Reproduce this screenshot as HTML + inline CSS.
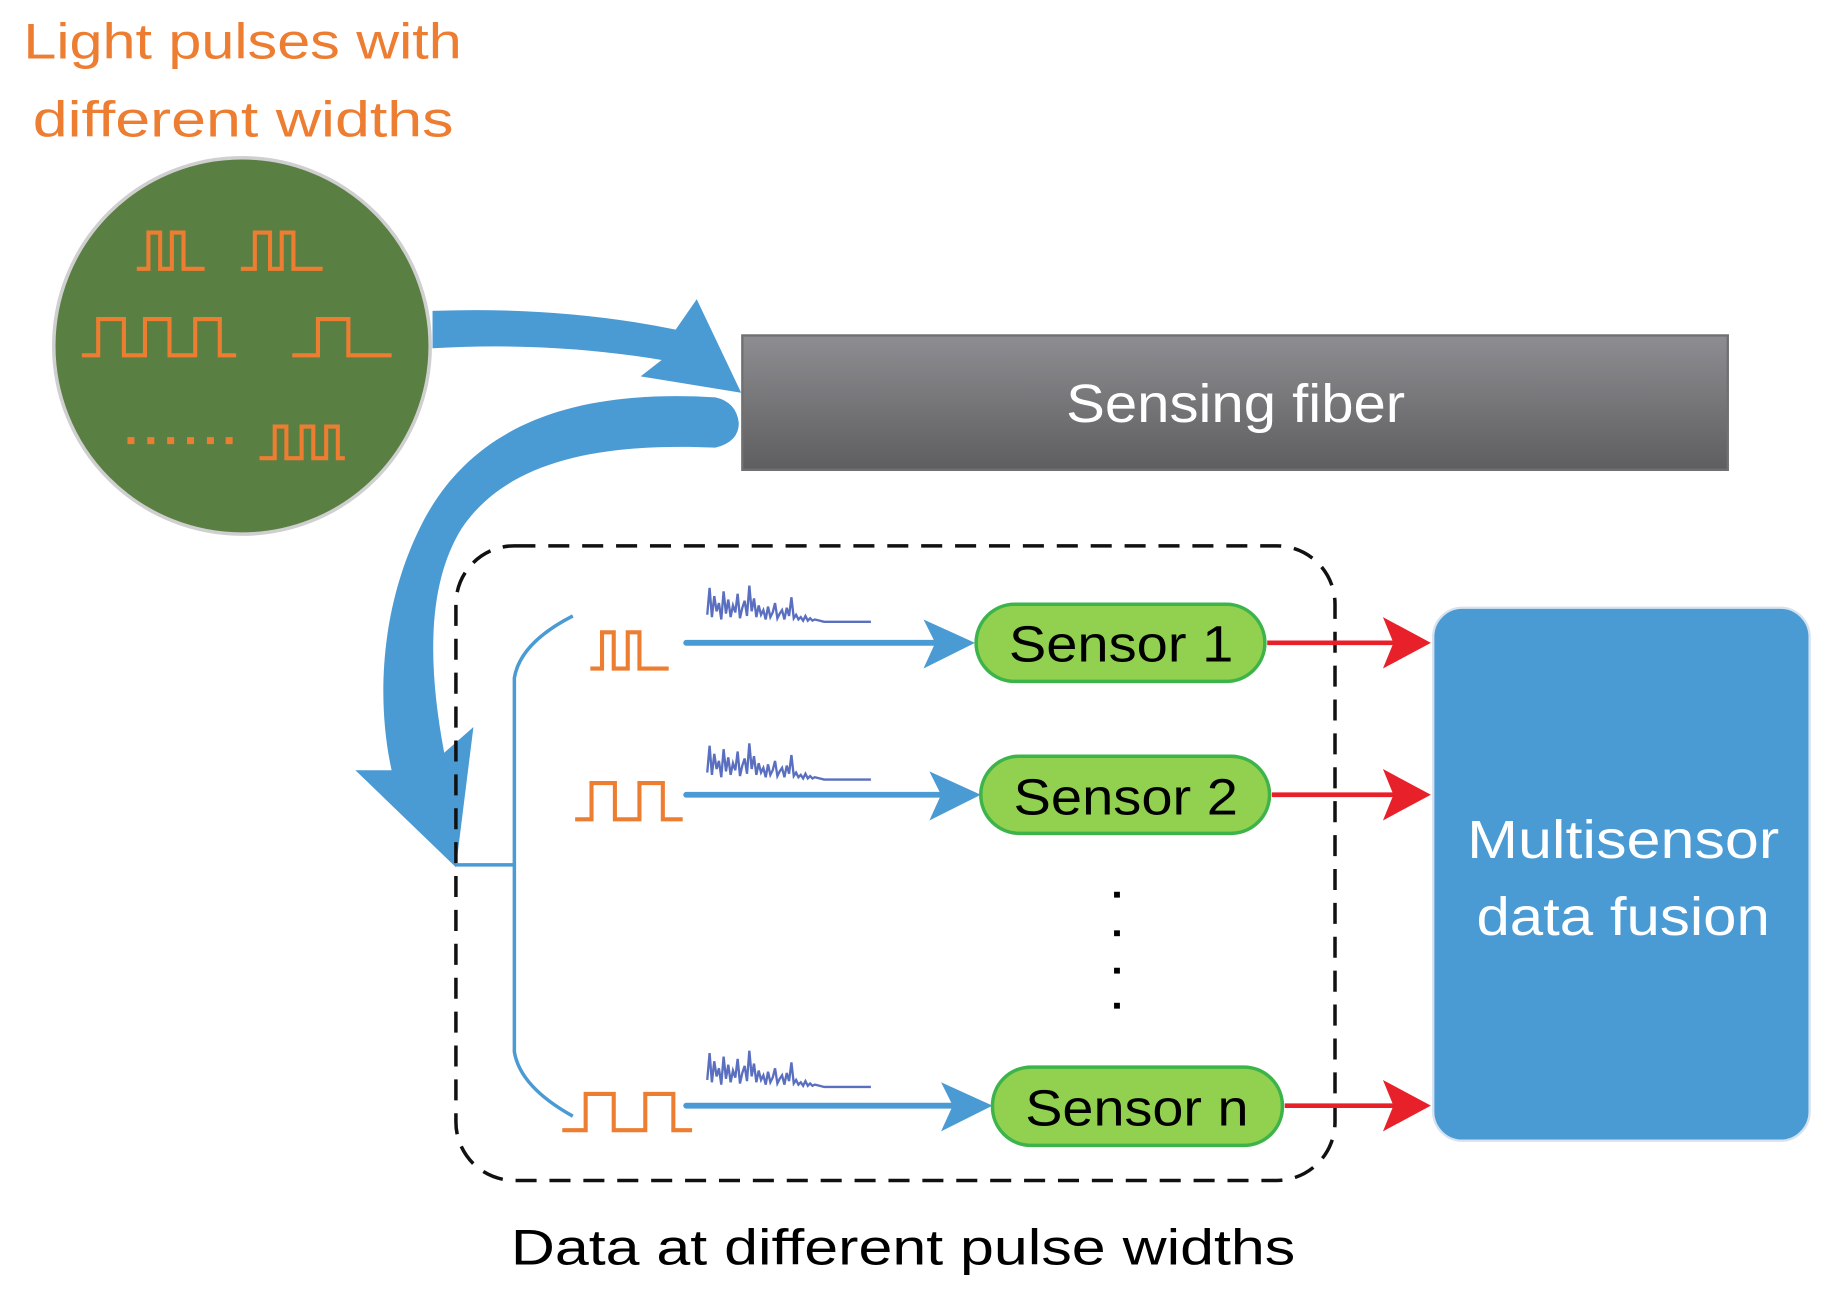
<!DOCTYPE html>
<html><head><meta charset="utf-8"><style>
html,body{margin:0;padding:0;background:#fff;}
svg{display:block;}
text{font-family:"Liberation Sans",sans-serif;}
</style></head><body>
<svg width="1833" height="1295" viewBox="0 0 1568 1108" preserveAspectRatio="none" xmlns="http://www.w3.org/2000/svg">
<defs>
<linearGradient id="gf" x1="0" y1="0" x2="0" y2="1"><stop offset="0" stop-color="#8e8e92"/><stop offset="1" stop-color="#5e5e60"/></linearGradient>
<g id="noise"><polyline fill="none" stroke="#5b6fc0" stroke-width="2" points="0,28 2,5 4,30 6,12 8,25 10,18 12,32 14,8 16,27 18,15 20,30 22,20 24,26 26,10 28,31 30,22 32,16 34,29 36,3 38,25 40,14 42,30 44,20 46,28 48,24 50,32 52,21 54,30 56,26 58,18 60,31 62,27 64,24 66,32 68,22 70,29 72,13 74,31 76,28 78,32 80,30 82,33 84,29 86,33 88,31 90,33 92,32 96,33 100,34 106,34 110,34 125,34 140,34"/></g>
</defs>
<text x="20" y="50" font-size="43" fill="#ED7D31" textLength="375" lengthAdjust="spacingAndGlyphs">Light pulses with</text>
<text x="28" y="117" font-size="43" fill="#ED7D31" textLength="360" lengthAdjust="spacingAndGlyphs">different widths</text>
<circle cx="207" cy="296" r="161" fill="#5a7f43" stroke="#cfcfcf" stroke-width="3"/>
<g fill="none" stroke="#ED7D31" stroke-width="3.5">
<polyline points="117,230 127,230 127,199 137,199 137,230 147,230 147,199 157,199 157,230 175,230"/>
<polyline points="206,230 218,230 218,199 231,199 231,230 241,230 241,199 251,199 251,230 276,230"/>
<polyline points="70,304 84,304 84,273 106,273 106,304 124,304 124,273 145,273 145,304 167,304 167,273 188,273 188,304 202,304"/>
<polyline points="250,304 272,304 272,273 298,273 298,304 335,304"/>
<polyline points="222,392 235,392 235,365 245,365 245,392 258,392 258,365 268,365 268,392 279,392 279,365 289,365 289,392 295,392"/>
<polyline points="505,572 515,572 515,541 525,541 525,572 537,572 537,541 547,541 547,572 572,572"/>
<polyline points="492,701 506,701 506,670 526,670 526,701 547,701 547,670 567,670 567,701 584,701"/>
<polyline points="481,967 501,967 501,936 525,936 525,967 552,967 552,936 576,936 576,967 592,967"/>
</g>
<g fill="#ED7D31"><rect x="109" y="374" width="6" height="6"/><rect x="126" y="374" width="6" height="6"/><rect x="143" y="374" width="6" height="6"/><rect x="160" y="374" width="6" height="6"/><rect x="177" y="374" width="6" height="6"/><rect x="193" y="374" width="6" height="6"/></g>
<path d="M370,266 Q480,262 578,282 L596,256 L634,336 L548,322 L566,308 Q470,292 370,298 Z" fill="#4A9AD4"/>
<rect x="635" y="287" width="843" height="115" fill="url(#gf)" stroke="#707072" stroke-width="2"/>
<text x="912" y="361" font-size="46" fill="#fff" textLength="290" lengthAdjust="spacingAndGlyphs">Sensing fiber</text>
<path d="M612,340 C480,332 400,370 360,450 C325,520 322,600 335,659 L304,659 L390,742 L405,622 L380,644 C366,570 365,500 395,452 C430,400 500,378 612,383 Q632,378 632,362 Q630,344 612,340 Z" fill="#4A9AD4"/>
<rect x="390" y="467" width="752" height="543" rx="50" fill="none" stroke="#111" stroke-width="3" stroke-dasharray="18,11"/>
<path d="M490,527 Q445,550 440,580 L440,900 Q445,930 490,955 M390,740 L440,740" fill="none" stroke="#4A9AD4" stroke-width="3"/>
<use href="#noise" x="605" y="498"/><use href="#noise" x="605" y="633"/><use href="#noise" x="605" y="896"/>
<g stroke="#4A9AD4" stroke-width="5" stroke-linecap="round"><line x1="587" y1="550" x2="800" y2="550"/><line x1="587" y1="680" x2="805" y2="680"/><line x1="587" y1="946" x2="815" y2="946"/></g>
<g fill="#4A9AD4"><polygon points="790,530 834,550 790,572 800,550"/><polygon points="795,660 839,680 795,702 805,680"/><polygon points="805,926 849,946 805,968 815,946"/></g>
<g fill="#92D050" stroke="#3db44a" stroke-width="3">
<rect x="835" y="517" width="247" height="66" rx="33"/><rect x="839" y="647" width="247" height="66" rx="33"/><rect x="849" y="913" width="248" height="67" rx="33"/></g>
<g font-size="44" fill="#000">
<text x="863" y="566" textLength="192" lengthAdjust="spacingAndGlyphs">Sensor 1</text>
<text x="867" y="697" textLength="192" lengthAdjust="spacingAndGlyphs">Sensor 2</text>
<text x="877" y="963" textLength="191" lengthAdjust="spacingAndGlyphs">Sensor n</text></g>
<g fill="#000"><rect x="953" y="763" width="5" height="5"/><rect x="953" y="796" width="5" height="5"/><rect x="953" y="828" width="5" height="5"/><rect x="953" y="858" width="5" height="5"/></g>
<g stroke="#e8202a" stroke-width="4"><line x1="1084" y1="550" x2="1195" y2="550"/><line x1="1088" y1="680" x2="1195" y2="680"/><line x1="1099" y1="946" x2="1195" y2="946"/></g>
<g fill="#e8202a"><polygon points="1183,528 1224,550 1183,572 1192,550"/><polygon points="1183,658 1224,680 1183,702 1192,680"/><polygon points="1183,924 1224,946 1183,968 1192,946"/></g>
<rect x="1226" y="520" width="322" height="456" rx="25" fill="#4A9AD4" stroke="#d6e2ee" stroke-width="2"/>
<text x="1255" y="734" font-size="46" fill="#fff" textLength="267" lengthAdjust="spacingAndGlyphs">Multisensor</text>
<text x="1263" y="800" font-size="46" fill="#fff" textLength="251" lengthAdjust="spacingAndGlyphs">data fusion</text>
<text x="437" y="1082" font-size="43" fill="#000" textLength="671" lengthAdjust="spacingAndGlyphs">Data at different pulse widths</text>
</svg>
</body></html>
